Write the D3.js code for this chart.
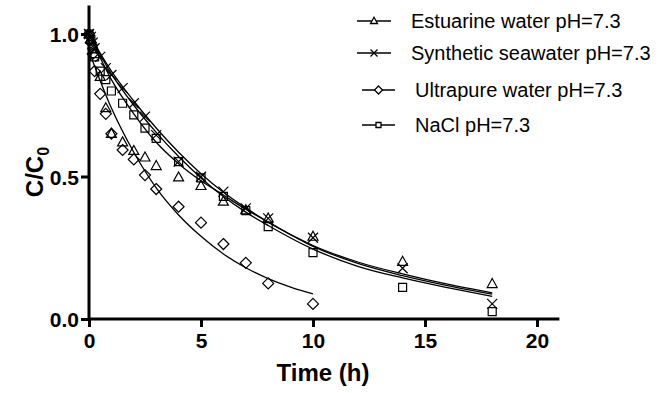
<!DOCTYPE html>
<html>
<head>
<meta charset="utf-8">
<script src="https://cdn.jsdelivr.net/npm/d3@7"></script>
<style>
  html, body { margin: 0; padding: 0; background: #fff; }
  svg { display: block; }
  text { font-family: "Liberation Sans", Arial, sans-serif; fill: #000; }
</style>
</head>
<body>
<svg id="chart" width="659" height="393"></svg>
<script>
// ---- data ----
const seriesNames = ["Estuarine water pH=7.3", "Synthetic seawater pH=7.3", "Ultrapure water pH=7.3", "NaCl pH=7.3"];
const time = [0, 0.083, 0.167, 0.25, 0.5, 0.75, 1, 1.5, 2, 2.5, 3, 4, 5, 6, 7, 8, 10, 14, 18];
const timeUltrapure = [0, 0.083, 0.167, 0.25, 0.5, 0.75, 1, 1.5, 2, 2.5, 3, 4, 5, 6, 7, 8, 10];
const estuarine = [1.0, 0.98, 0.96, 0.93, 0.85, 0.74, 0.65, 0.62, 0.59, 0.567, 0.537, 0.497, 0.467, 0.412, 0.382, 0.353, 0.289, 0.201, 0.123];
const synthetic = [1.0, 0.99, 0.97, 0.95, 0.92, 0.88, 0.856, 0.81, 0.757, 0.71, 0.645, 0.552, 0.499, 0.447, 0.388, 0.353, 0.285, 0.178, 0.053];
const ultrapure = [1.0, 0.97, 0.93, 0.87, 0.79, 0.72, 0.65, 0.593, 0.56, 0.505, 0.456, 0.394, 0.338, 0.263, 0.197, 0.125, 0.053];
const nacl = [1.0, 0.98, 0.95, 0.92, 0.87, 0.84, 0.80, 0.757, 0.716, 0.67, 0.634, 0.552, 0.495, 0.43, 0.38, 0.324, 0.233, 0.111, 0.026];

// fitted curves
const fitTime = [0, 1, 2, 3, 4, 5, 6, 7, 8, 10, 12, 14, 16, 18];
const fitEstuarine = [1.0, 0.84, 0.72, 0.62, 0.545, 0.485, 0.435, 0.385, 0.34, 0.255, 0.195, 0.152, 0.117, 0.087];
const fitSynthetic = [1.0, 0.87, 0.765, 0.67, 0.585, 0.51, 0.445, 0.39, 0.34, 0.258, 0.2, 0.158, 0.122, 0.092];
const fitNacl = [1.0, 0.86, 0.75, 0.655, 0.57, 0.495, 0.43, 0.375, 0.328, 0.245, 0.185, 0.144, 0.11, 0.079];
const fitTimeUltrapure = [0, 1, 2, 3, 4, 5, 6, 7, 8, 9, 10];
const fitUltrapure = [0.94, 0.74, 0.585, 0.46, 0.365, 0.29, 0.228, 0.18, 0.142, 0.112, 0.088];

const xTicks = [0, 5, 10, 15, 20];
const yTicks = [0, 0.5, 1.0];

// ---- layout ----
const svg = d3.select("#chart");
const x = d3.scaleLinear().domain([0, 21]).range([89, 559.4]);
const y = d3.scaleLinear().domain([0, 1.1]).range([319, 5.5]);

// fitted curves
const line = d3.line().x(d => x(d[0])).y(d => y(d[1])).curve(d3.curveMonotoneX);
const fits = [
  [fitTime, fitEstuarine],
  [fitTime, fitSynthetic],
  [fitTimeUltrapure, fitUltrapure],
  [fitTime, fitNacl]
];
svg.append("g").selectAll("path").data(fits).join("path")
  .attr("d", f => line(f[0].map((t, i) => [t, f[1][i]])))
  .attr("fill", "none").attr("stroke", "#000").attr("stroke-width", 1.3);

// marker generators
function marker(kind, s) {
  if (kind === "tri") {
    const h = s * 0.9;
    return `M0,${-h * 0.6}L${s / 2},${h * 0.4}L${-s / 2},${h * 0.4}Z`;
  }
  if (kind === "x") {
    const a = s / 2;
    return `M${-a},${-a}L${a},${a}M${-a},${a}L${a},${-a}`;
  }
  if (kind === "dia") {
    const a = s / 2;
    return `M0,${-a}L${a},0L0,${a}L${-a},0Z`;
  }
  const a = s / 2;
  return `M${-a},${-a}H${a}V${a}H${-a}Z`;
}

const pointSets = [
  { t: time, v: estuarine, kind: "tri", size: 10 },
  { t: time, v: synthetic, kind: "x", size: 10 },
  { t: timeUltrapure, v: ultrapure, kind: "dia", size: 11 },
  { t: time, v: nacl, kind: "sq", size: 8 }
];
pointSets.forEach(ps => {
  svg.append("g").selectAll("path").data(ps.t.map((t, i) => [t, ps.v[i]])).join("path")
    .attr("transform", d => `translate(${x(d[0])},${y(d[1])})`)
    .attr("d", marker(ps.kind, ps.size))
    .attr("fill", "none")
    .attr("stroke", "#000").attr("stroke-width", 1.2);
});

// axes
const xAxis = svg.append("g").attr("transform", `translate(0,${y(0)})`)
  .call(d3.axisBottom(x).tickValues(xTicks).tickFormat(d3.format("d")).tickSize(8).tickPadding(4));
const yAxis = svg.append("g").attr("transform", `translate(${x(0)},0)`)
  .call(d3.axisLeft(y).tickValues(yTicks).tickFormat(d3.format(".1f")).tickSize(8).tickPadding(2));
[xAxis, yAxis].forEach(a => {
  a.select(".domain").attr("stroke", "#000").attr("stroke-width", 3);
  a.selectAll(".tick line").attr("stroke", "#000").attr("stroke-width", 3);
  a.selectAll(".tick text").attr("fill", "#000")
    .style("font-family", "'Liberation Sans', Arial, sans-serif")
    .style("font-size", "21px").style("font-weight", "bold");
});
xAxis.select(".domain").attr("d", `M${x(0)},0H${x(21)}`);
yAxis.select(".domain").attr("d", `M0,${y(0)}V${y(1.1)}`);
xAxis.selectAll(".tick text").attr("dy", "0.82em");
yAxis.selectAll(".tick text").attr("dy", "0.36em");

// axis titles
svg.append("text").attr("x", 323).attr("y", 381).attr("text-anchor", "middle")
  .style("font-size", "24px").style("font-weight", "bold").text("Time (h)");
const yt = svg.append("text").attr("transform", "translate(43,172) rotate(-90)")
  .attr("text-anchor", "middle").style("font-size", "24px").style("font-weight", "bold");
yt.append("tspan").text("C/C");
yt.append("tspan").attr("dy", 6).style("font-size", "16px").text("0");

// legend
const legendRows = [
  { y: 21, x0: 357, x1: 391, tx: 411, kind: "tri", size: 7 },
  { y: 53, x0: 357, x1: 391, tx: 411, kind: "x", size: 7 },
  { y: 90, x0: 362, x1: 395, tx: 415, kind: "dia", size: 8 },
  { y: 125, x0: 362, x1: 395, tx: 415, kind: "sq", size: 5 }
];
const lg = svg.append("g").selectAll("g").data(legendRows).join("g");
lg.append("line").attr("x1", d => d.x0).attr("x2", d => d.x1)
  .attr("y1", d => d.y).attr("y2", d => d.y).attr("stroke", "#000").attr("stroke-width", 1.5);
lg.append("path").attr("transform", d => `translate(${(d.x0 + d.x1) / 2},${d.y})`)
  .attr("d", d => marker(d.kind, d.size))
  .attr("fill", d => d.kind === "x" ? "none" : "#fff").attr("stroke", "#000").attr("stroke-width", 1.3);
lg.append("text").attr("x", d => d.tx).attr("y", d => d.y).attr("dy", "0.35em")
  .style("font-size", "20px").text((d, i) => seriesNames[i]);
</script>
</body>
</html>
